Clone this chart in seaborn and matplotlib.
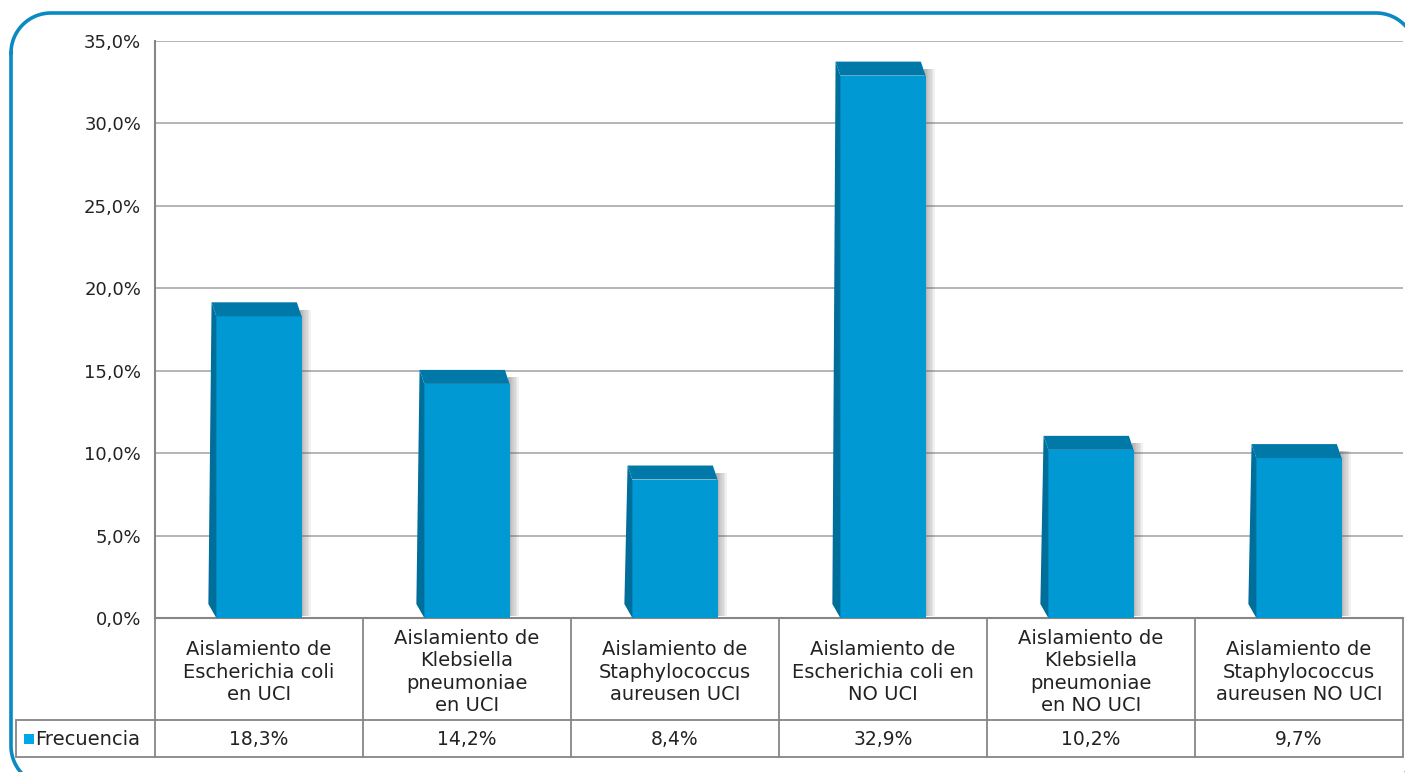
import numpy as np
import pandas as pd
import matplotlib
matplotlib.use("Agg")
import matplotlib.pyplot as plt
import seaborn as sns
from matplotlib.patches import Polygon, Rectangle
from matplotlib.ticker import FuncFormatter, MultipleLocator

# data
categories = [
    "Aislamiento de\nEscherichia coli\nen UCI",
    "Aislamiento de\nKlebsiella\npneumoniae\nen UCI",
    "Aislamiento de\nStaphylococcus\naureusen UCI",
    "Aislamiento de\nEscherichia coli en\nNO UCI",
    "Aislamiento de\nKlebsiella\npneumoniae\nen NO UCI",
    "Aislamiento de\nStaphylococcus\naureusen NO UCI",
]
frecuencia = [18.3, 14.2, 8.4, 32.9, 10.2, 9.7]
series_name = "Frecuencia"

FRONT = "#0099D3"
SIDE = "#006E9A"
TOP = "#0078A8"
GRID = "#A0A0A0"
LINE = "#868686"
TXT = "#222222"
FS = 13

W, H = 1405, 772
sns.set_theme(style="white")
plt.rcParams["font.family"] = ["DejaVu Sans"]

fig = plt.figure(figsize=(W / 100, H / 100), dpi=100)

# background axes in pixel units for the rounded frame
bg = fig.add_axes([0, 0, 1, 1], zorder=0)
bg.set_xlim(0, W)
bg.set_ylim(H, 0)
bg.axis("off")
r = 40
fx0, fy0, fx1, fy1 = 11, 13, 1416, 786
t = np.linspace(0, np.pi / 2, 30)
xs, ys = [], []
for (cx, cy, a0) in [(fx0 + r, fy0 + r, np.pi), (fx1 - r, fy0 + r, 1.5 * np.pi),
                     (fx1 - r, fy1 - r, 0.0), (fx0 + r, fy1 - r, 0.5 * np.pi)]:
    xs.extend(cx + r * np.cos(a0 + t))
    ys.extend(cy + r * np.sin(a0 + t))
xs.append(xs[0])
ys.append(ys[0])
bg.plot(xs, ys, color="#0A89C2", lw=2.6, solid_capstyle="round")

left, right, top, bottom = 155, 1403, 41, 618
ax = fig.add_axes([left / W, 1 - bottom / H, (right - left) / W, (bottom - top) / H], zorder=2)
ax.patch.set_alpha(0)

df = pd.DataFrame({"cat": categories, "val": frecuencia})
sns.barplot(data=df, x="cat", y="val", color=FRONT, width=0.41,
            saturation=1, linewidth=0, ax=ax, zorder=3)

ax.set_xlim(-0.5, 5.5)
ax.set_ylim(0, 35)
ax.yaxis.set_major_locator(MultipleLocator(5))
ax.yaxis.set_major_formatter(FuncFormatter(lambda v, p: f"{v:.1f}%".replace(".", ",")))
ax.tick_params(axis="y", labelsize=FS, colors=TXT, pad=10, length=0)
ax.set_xticks([])
ax.set_xlabel("")
ax.set_ylabel("")
ax.grid(axis="y", color=GRID, lw=1.1, zorder=0)
ax.set_axisbelow(True)
for s in ["top", "right"]:
    ax.spines[s].set_visible(False)
for s in ["left", "bottom"]:
    ax.spines[s].set_color(LINE)
    ax.spines[s].set_linewidth(1.5)

# fake 3d: left side face, top face and a soft shadow, in data units
px_x = 6 / (right - left)           # data units per pixel along x
px_y = 35 / (bottom - top)          # data units per pixel along y
dx, dy = -8 * px_x, 14 * px_y
for p in list(ax.patches):
    x0, w, h = p.get_x(), p.get_width(), p.get_height()
    x1 = x0 + w
    # shadow on the right
    for k in range(1, 8):
        ax.add_patch(Rectangle((x1 - 2 * px_x, 0.1), k * 1.6 * px_x, h - 0.2 + dy * 0.6,
                               color="#555555", alpha=0.08, lw=0, zorder=2))
    ax.add_patch(Polygon([(x0, 0), (x0, h), (x0 + dx * 0.6, h + dy),
                          (x0 + dx, dy)], closed=True, color=SIDE, lw=0, zorder=4))
    ax.add_patch(Polygon([(x0, h), (x1, h), (x1 + dx * 0.6, h + dy),
                          (x0 + dx * 0.6, h + dy)], closed=True, color=TOP, lw=0, zorder=4))

# data table under the plot
tab = fig.add_axes([0, 0, 1, 1], zorder=3)
tab.set_xlim(0, W)
tab.set_ylim(H, 0)
tab.axis("off")
col_w = (right - left) / len(categories)
row1, row2, row3 = 618, 720, 757
tab.plot([left, right], [row2, row2], color=LINE, lw=1.3)
tab.plot([16, left], [row2, row2], color=LINE, lw=1.3)
tab.plot([16, right], [row3, row3], color=LINE, lw=1.3)
tab.plot([16, 16], [row2, row3], color=LINE, lw=1.3)
for i in range(len(categories) + 1):
    xx = left + i * col_w
    tab.plot([xx, xx], [row1, row3], color=LINE, lw=1.3)
for i, (c, v) in enumerate(zip(categories, frecuencia)):
    cx = left + (i + 0.5) * col_w
    tab.text(cx, (row1 + row2) / 2 + 3, c, ha="center", va="center",
             fontsize=FS + 1, color=TXT, linespacing=1.22)
    tab.text(cx, (row2 + row3) / 2 + 1, f"{v:.1f}%".replace(".", ","),
             ha="center", va="center", fontsize=FS + 0.5, color=TXT)
tab.add_patch(Rectangle((24, 734), 10, 10, color="#00A8E8", lw=0))
tab.text(35, (row2 + row3) / 2 + 1, series_name, ha="left", va="center",
         fontsize=FS + 1, color=TXT)

fig.savefig("out.png", dpi=100)
